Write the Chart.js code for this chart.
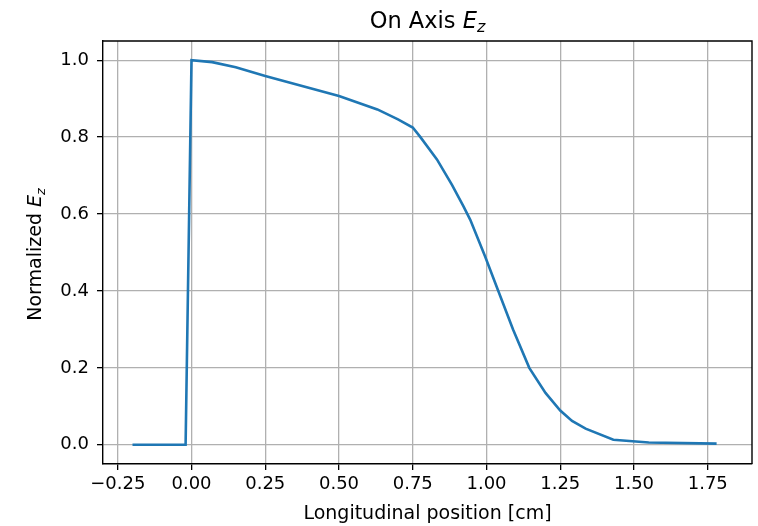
<!DOCTYPE html>
<html>
<head>
<meta charset="utf-8">
<script src="https://cdn.jsdelivr.net/npm/chart.js@4.4.1/dist/chart.umd.min.js"></script>
<style>
  body { margin: 0; background: #fff; }
  #wrap { width: 758px; height: 526px; }
</style>
</head>
<body>
<div id="wrap"><canvas id="ezChart" width="758" height="526"></canvas></div>
<script>
// On-axis Ez profile
const positions = [-0.2, -0.02, 0.0, 0.07, 0.15, 0.25, 0.5, 0.63, 0.7, 0.75, 0.776, 0.832, 0.883, 0.922,
  0.945, 0.995, 1.04, 1.09, 1.145, 1.2, 1.25, 1.29, 1.336, 1.43, 1.55, 1.78];
const normalizedEz = [0, 0, 1.0, 0.995, 0.982, 0.959, 0.907, 0.872, 0.846, 0.825, 0.8, 0.742, 0.676, 0.62,
  0.585, 0.49, 0.4, 0.3, 0.2, 0.135, 0.089, 0.062, 0.042, 0.013, 0.006, 0.003];
const xTickValues = [-0.25, 0, 0.25, 0.5, 0.75, 1.0, 1.25, 1.5, 1.75];
const yTickValues = [0, 0.2, 0.4, 0.6, 0.8, 1.0];

const FONT = 'DejaVu Sans';

function fmt(v, digits) {
  const s = Math.abs(v).toFixed(digits);
  return v < -1e-9 ? '\u2212' + s : s;
}

// draws a string made of parts with different fonts (for E_z)
function drawParts(ctx, parts, x, y) {
  let total = 0;
  parts.forEach(p => { ctx.font = p.font; total += ctx.measureText(p.text).width; });
  let cx = x - total / 2;
  parts.forEach(p => {
    ctx.font = p.font;
    ctx.fillText(p.text, cx, y + (p.dy || 0));
    cx += ctx.measureText(p.text).width;
  });
}

const labelsPlugin = {
  id: 'labelsPlugin',
  afterDraw(chart) {
    const ctx = chart.ctx;
    const area = chart.chartArea;
    ctx.save();
    // top and right spines
    ctx.strokeStyle = '#000';
    ctx.lineWidth = 1.4;
    ctx.beginPath();
    ctx.moveTo(area.left, area.top);
    ctx.lineTo(area.right, area.top);
    ctx.lineTo(area.right, area.bottom);
    ctx.stroke();

    ctx.fillStyle = '#000';
    ctx.textBaseline = 'alphabetic';
    ctx.textAlign = 'left';
    drawParts(ctx, [
      { text: 'On Axis ', font: '22.5px "' + FONT + '"' },
      { text: 'E', font: 'oblique 22.5px "' + FONT + '"' },
      { text: 'z', font: 'oblique 16px "' + FONT + '"', dy: 4 }
    ], (area.left + area.right) / 2, 28);

    ctx.translate(41, (area.top + area.bottom) / 2 + 2);
    ctx.rotate(-Math.PI / 2);
    drawParts(ctx, [
      { text: 'Normalized ', font: '19px "' + FONT + '"' },
      { text: 'E', font: 'oblique 19px "' + FONT + '"' },
      { text: 'z', font: 'oblique 13px "' + FONT + '"', dy: 3.5 }
    ], 0, 0);
    ctx.restore();
  }
};

const ctx = document.getElementById('ezChart');

const chartData = {
  datasets: [{
    data: positions.map((x, i) => ({ x: x, y: normalizedEz[i] })),
    borderColor: '#1f77b4',
    borderWidth: 2.6,
    pointRadius: 0,
    tension: 0,
    fill: false
  }]
};

new Chart(ctx, {
  type: 'line',
  data: chartData,
  plugins: [labelsPlugin],
  options: {
    responsive: false,
    animation: false,
    layout: { padding: { top: 41, right: 6, left: 0, bottom: 0 } },
    plugins: {
      legend: { display: false },
      tooltip: { enabled: false },
      title: { display: false }
    },
    scales: {
      x: {
        type: 'linear',
        min: -0.3,
        max: 1.9,
        afterBuildTicks: s => { s.ticks = xTickValues.map(v => ({ value: v })); },
        afterFit: s => { s.height = 62; },
        grid: { color: '#b0b0b0', lineWidth: 1.3, tickColor: '#000', tickLength: 6 },
        border: { color: '#000', width: 1.4 },
        ticks: {
          color: '#000', font: { family: FONT, size: 18 }, padding: 4,
          maxRotation: 0, autoSkip: false,
          callback: v => fmt(v, 2)
        },
        title: {
          display: true, text: 'Longitudinal position [cm]', color: '#000',
          font: { family: FONT, size: 19 }, padding: { top: 0, bottom: 1 }
        }
      },
      y: {
        min: -0.05,
        max: 1.05,
        afterBuildTicks: s => { s.ticks = yTickValues.map(v => ({ value: v })); },
        afterFit: s => { s.width = 103; },
        grid: { color: '#b0b0b0', lineWidth: 1.3, tickColor: '#000', tickLength: 6 },
        border: { color: '#000', width: 1.4 },
        ticks: {
          color: '#000', font: { family: FONT, size: 18 }, padding: 8,
          autoSkip: false,
          callback: v => fmt(v, 1)
        }
      }
    }
  }
});
</script>
</body>
</html>
